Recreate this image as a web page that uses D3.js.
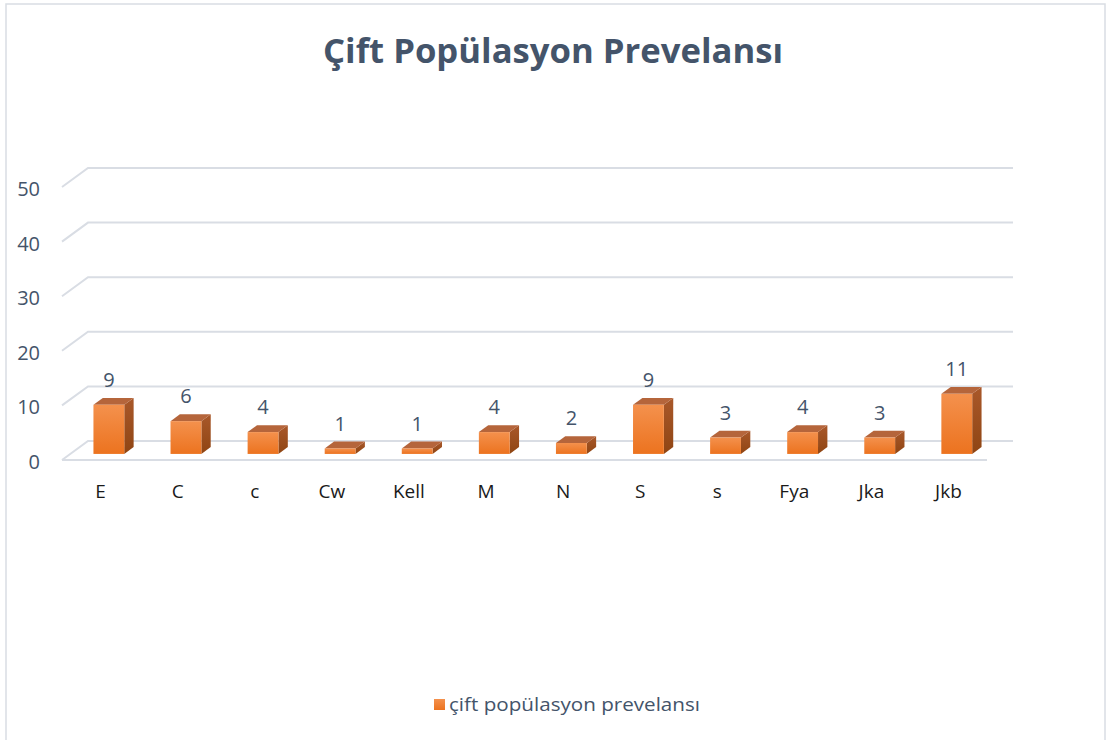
<!DOCTYPE html>
<html lang="tr">
<head>
<meta charset="UTF-8">
<title>Çift Popülasyon Prevelansı</title>
<script src="https://d3js.org/d3.v7.min.js"></script>
<style>
  body { margin: 0; background: #fff; }
  text { font-family: "Open Sans", "Noto Sans", sans-serif; }
</style>
</head>
<body>
<div id="chart"></div>
<script>
// data
var categories = ["E", "C", "c", "Cw", "Kell", "M", "N", "S", "s", "Fya", "Jka", "Jkb"];
var values = [9, 6, 4, 1, 1, 4, 2, 9, 3, 4, 3, 11];
var yTicks = [0, 10, 20, 30, 40, 50];
var title = "Çift Popülasyon Prevelansı";
var seriesName = "çift popülasyon prevelansı";

var W = 1107, H = 740;
// front plane of the plot and the 3d depth offset
var plotLeft = 62, plotRight = 987, plotBottom = 460, plotTop = 187;
var depth = {dx: 26, dy: -19};
var t0 = 0.32, t1 = 0.68; // bars sit in the middle of the depth

var svg = d3.select("#chart").append("svg")
    .attr("width", W).attr("height", H);

var defs = svg.append("defs");
var gFront = defs.append("linearGradient").attr("id", "front")
    .attr("x1", 0).attr("y1", 0).attr("x2", 0).attr("y2", 1);
gFront.append("stop").attr("offset", "0%").attr("stop-color", "#f4914d");
gFront.append("stop").attr("offset", "100%").attr("stop-color", "#ec731f");
var gSide = defs.append("linearGradient").attr("id", "side")
    .attr("x1", 0).attr("y1", 0).attr("x2", 0).attr("y2", 1);
gSide.append("stop").attr("offset", "0%").attr("stop-color", "#a9582a");
gSide.append("stop").attr("offset", "100%").attr("stop-color", "#8f4513");

// chart border
svg.append("rect")
    .attr("x", 6).attr("y", 4).attr("width", 1099).attr("height", 760)
    .attr("fill", "none").attr("stroke", "#d9dde3").attr("stroke-width", 1.5);

var x = d3.scaleBand().domain(categories).range([plotLeft, plotRight]).paddingInner(0).paddingOuter(0);
var y = d3.scaleLinear().domain([0, 50]).range([plotBottom, plotTop]);
var bw = x.bandwidth() * 0.4;

// title
svg.append("text")
    .attr("x", 553).attr("y", 63)
    .attr("text-anchor", "middle")
    .attr("font-size", 34).attr("font-weight", "bold")
    .attr("fill", "#44546a")
    .attr("textLength", 460).attr("lengthAdjust", "spacingAndGlyphs")
    .text(title);

// gridlines: left wall diagonal + back wall horizontal
var grid = svg.append("g").attr("stroke", "#d9dde4").attr("stroke-width", 2).attr("fill", "none");
yTicks.forEach(function(v) {
  var yy = y(v);
  grid.append("path")
      .attr("d", "M" + plotLeft + "," + yy + "L" + (plotLeft + depth.dx) + "," + (yy + depth.dy) +
                 "L" + (plotRight + depth.dx) + "," + (yy + depth.dy));
});
// floor front edge
grid.append("line")
    .attr("x1", plotLeft).attr("x2", plotRight).attr("y1", plotBottom).attr("y2", plotBottom);

// y axis labels
svg.append("g").selectAll("text").data(yTicks).join("text")
    .attr("x", 40).attr("y", function(d) { return y(d) + 9; })
    .attr("text-anchor", "end")
    .attr("font-size", 20).attr("fill", "#44546a")
    .text(function(d) { return d; });

// bars
var bars = svg.append("g").selectAll("g").data(values).join("g");
bars.each(function(v, i) {
  var g = d3.select(this);
  var fx = x(categories[i]) + (x.bandwidth() - bw) / 2 + depth.dx * t0;
  var fy0 = y(0) + depth.dy * t0;
  var fy1 = y(v) + depth.dy * t0;
  var ddx = depth.dx * (t1 - t0), ddy = depth.dy * (t1 - t0);
  // side
  g.append("path")
      .attr("d", "M" + (fx + bw) + "," + fy0 + "L" + (fx + bw) + "," + fy1 +
                 "L" + (fx + bw + ddx) + "," + (fy1 + ddy) + "L" + (fx + bw + ddx) + "," + (fy0 + ddy) + "Z")
      .attr("fill", "url(#side)");
  // top
  g.append("path")
      .attr("d", "M" + fx + "," + fy1 + "L" + (fx + bw) + "," + fy1 +
                 "L" + (fx + bw + ddx) + "," + (fy1 + ddy) + "L" + (fx + ddx) + "," + (fy1 + ddy) + "Z")
      .attr("fill", "#b5653b");
  // front
  g.append("rect")
      .attr("x", fx).attr("y", fy1).attr("width", bw).attr("height", fy0 - fy1)
      .attr("fill", "url(#front)");
  // value label
  g.append("text")
      .attr("x", fx + bw / 2).attr("y", fy1 + ddy - 11)
      .attr("text-anchor", "middle")
      .attr("font-size", 20).attr("fill", "#44546a")
      .text(v);
});

// category labels
svg.append("g").selectAll("text").data(categories).join("text")
    .attr("x", function(d) { return x(d) + x.bandwidth() / 2; })
    .attr("y", 498)
    .attr("text-anchor", "middle")
    .attr("font-size", 19).attr("fill", "#1a1a1a")
    .text(function(d) { return d; });

// legend
svg.append("rect")
    .attr("x", 434).attr("y", 699).attr("width", 11).attr("height", 11)
    .attr("fill", "url(#front)");
svg.append("text")
    .attr("x", 449).attr("y", 711)
    .attr("font-size", 18).attr("fill", "#44546a")
    .attr("textLength", 251).attr("lengthAdjust", "spacingAndGlyphs")
    .text(seriesName);
</script>
</body>
</html>
